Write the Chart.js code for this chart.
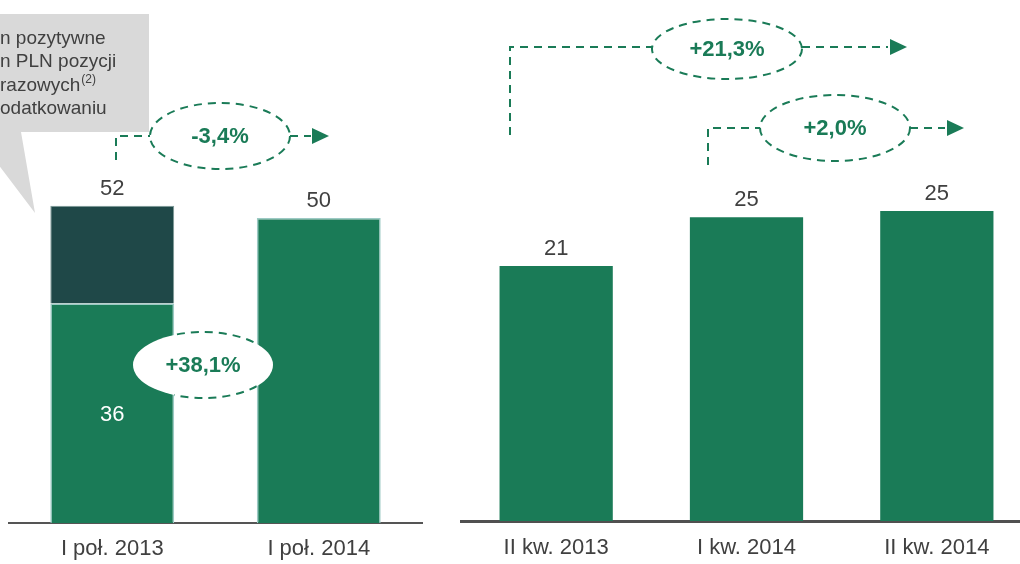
<!DOCTYPE html>
<html>
<head>
<meta charset="utf-8">
<script src="https://cdn.jsdelivr.net/npm/chart.js@4.4.1/dist/chart.umd.min.js"></script>
<style>
  html, body { margin: 0; padding: 0; background: #fff; overflow: hidden; width: 1020px; height: 564px; }
  #left { position: absolute; left: 0; top: 0; }
  #right { position: absolute; left: 451px; top: 0; }
</style>
</head>
<body>
<canvas id="left" width="432" height="564"></canvas>
<canvas id="right" width="600" height="564"></canvas>
<script>
// data
const halfYears = ['I poł. 2013', 'I poł. 2014'];
const halfCore = [36, 50];
const halfOneOff = [16, null];
const halfInner = ['36', null];
const quarters = ['II kw. 2013', 'I kw. 2014', 'II kw. 2014'];
const quarterValues = [20.9, 24.9, 25.4];

const GREEN = '#1a7b57';
const DARK = '#1f4848';
const TEXT = '#404040';
const FONT = '"Liberation Sans", Arial, sans-serif';

function dashed(ctx) {
  ctx.strokeStyle = GREEN;
  ctx.lineWidth = 2;
  ctx.setLineDash([8, 6]);
}

function polyline(ctx, pts) {
  ctx.save();
  dashed(ctx);
  ctx.beginPath();
  ctx.moveTo(pts[0][0], pts[0][1]);
  for (let i = 1; i < pts.length; i++) ctx.lineTo(pts[i][0], pts[i][1]);
  ctx.stroke();
  ctx.restore();
}

function pctText(ctx, label, cx, cy) {
  ctx.save();
  ctx.fillStyle = GREEN;
  ctx.font = 'bold 22px ' + FONT;
  ctx.textAlign = 'center';
  ctx.textBaseline = 'middle';
  ctx.fillText(label, cx, cy + 1);
  ctx.restore();
}

function ellipse(ctx, cx, cy, rx, ry, label) {
  ctx.save();
  dashed(ctx);
  ctx.beginPath();
  ctx.ellipse(cx, cy, rx, ry, 0, 0, Math.PI * 2);
  ctx.stroke();
  ctx.restore();
  pctText(ctx, label, cx, cy);
}

function arrow(ctx, x, y) {
  ctx.save();
  ctx.fillStyle = GREEN;
  ctx.beginPath();
  ctx.moveTo(x, y - 8);
  ctx.lineTo(x + 17, y);
  ctx.lineTo(x, y + 8);
  ctx.closePath();
  ctx.fill();
  ctx.restore();
}

// value labels on top of each stack
const totalsPlugin = {
  id: 'totals',
  afterDatasetsDraw(chart) {
    const ctx = chart.ctx;
    const n = chart.data.labels.length;
    ctx.save();
    ctx.font = '22px ' + FONT;
    ctx.fillStyle = TEXT;
    ctx.textAlign = 'center';
    ctx.textBaseline = 'alphabetic';
    for (let i = 0; i < n; i++) {
      let total = 0, top = null, x = null;
      chart.data.datasets.forEach((ds, d) => {
        const v = ds.data[i];
        if (v == null) return;
        total += v;
        const el = chart.getDatasetMeta(d).data[i];
        top = el.y; x = el.x;
      });
      ctx.fillText(Math.round(total), x, top - 11);
    }
    ctx.restore();
  }
};

// left chart
new Chart(document.getElementById('left'), {
  type: 'bar',
  data: {
    labels: halfYears,
    datasets: [
      { data: halfCore, backgroundColor: GREEN, borderColor: '#9ccac4', borderWidth: 1.5 },
      { data: halfOneOff, backgroundColor: DARK, borderColor: '#7d9a98', borderWidth: 1 }
    ]
  },
  options: {
    responsive: false,
    animation: false,
    layout: { padding: { top: 35, left: 9, right: 10, bottom: 0 } },
    plugins: { legend: { display: false }, tooltip: { enabled: false } },
    datasets: { bar: { barPercentage: 0.6, categoryPercentage: 1 } },
    scales: {
      x: {
        stacked: true,
        grid: { display: false, drawTicks: false },
        border: { display: true, color: '#555', width: 2 },
        ticks: { color: TEXT, font: { family: FONT, size: 22 }, padding: 13 },
        afterFit(scale) { scale.height = 41; }
      },
      y: { stacked: true, display: false, min: 0, max: 80 }
    }
  },
  plugins: [totalsPlugin, {
    id: 'leftNotes',
    beforeDraw(chart) {
      const ctx = chart.ctx;
      // grey callout bubble
      ctx.save();
      ctx.fillStyle = '#d9d9d9';
      ctx.beginPath();
      ctx.moveTo(-5, 14);
      ctx.lineTo(149, 14);
      ctx.lineTo(149, 132);
      ctx.lineTo(21, 132);
      ctx.lineTo(35, 213);
      ctx.lineTo(-5, 160);
      ctx.closePath();
      ctx.fill();
      ctx.fillStyle = TEXT;
      ctx.font = '19px ' + FONT;
      ctx.textBaseline = 'alphabetic';
      ctx.fillText('n pozytywne', 0, 44);
      ctx.fillText('n PLN pozycji', 0, 67);
      ctx.fillText('razowych', 0, 91);
      const w = ctx.measureText('razowych').width;
      ctx.font = '12px ' + FONT;
      ctx.fillText('(2)', w + 1, 83);
      ctx.font = '19px ' + FONT;
      ctx.fillText('odatkowaniu', 0, 114);
      ctx.restore();
    },
    afterDatasetsDraw(chart) {
      const ctx = chart.ctx;
      const meta0 = chart.getDatasetMeta(0);
      // inner label
      ctx.save();
      ctx.fillStyle = '#fff';
      ctx.font = '22px ' + FONT;
      ctx.textAlign = 'center';
      ctx.textBaseline = 'middle';
      halfInner.forEach((t, i) => {
        if (!t) return;
        const el = meta0.data[i];
        ctx.fillText(t, el.x, (el.y + el.base) / 2 + 2);
      });
      ctx.restore();
      // -3,4%
      polyline(ctx, [[116, 160], [116, 136], [150, 136]]);
      ellipse(ctx, 220, 136, 70, 33, '-3,4%');
      polyline(ctx, [[290, 136], [311, 136]]);
      arrow(ctx, 312, 136);
      // +38,1% (white bubble, dashes only visible between the bars)
      const b0 = meta0.data[0], b1 = meta0.data[1];
      ctx.save();
      ctx.fillStyle = '#fff';
      ctx.beginPath();
      ctx.ellipse(203, 365, 70, 33, 0, 0, Math.PI * 2);
      ctx.fill();
      ctx.beginPath();
      ctx.rect(b0.x + b0.width / 2, 0, (b1.x - b1.width / 2) - (b0.x + b0.width / 2), 564);
      ctx.clip();
      dashed(ctx);
      ctx.beginPath();
      ctx.ellipse(203, 365, 70, 33, 0, 0, Math.PI * 2);
      ctx.stroke();
      ctx.restore();
      pctText(ctx, '+38,1%', 203, 365);
    }
  }]
});

// right chart
new Chart(document.getElementById('right'), {
  type: 'bar',
  data: {
    labels: quarters,
    datasets: [
      { data: quarterValues, backgroundColor: GREEN, borderWidth: 0 }
    ]
  },
  options: {
    responsive: false,
    animation: false,
    layout: { padding: { top: 33, left: 10, right: 19, bottom: 0 } },
    plugins: { legend: { display: false }, tooltip: { enabled: false } },
    datasets: { bar: { barPercentage: 0.595, categoryPercentage: 1 } },
    scales: {
      x: {
        grid: { display: false, drawTicks: false },
        border: { display: true, color: '#505050', width: 3 },
        ticks: { color: TEXT, font: { family: FONT, size: 22 }, padding: 14 },
        afterFit(scale) { scale.height = 43; }
      },
      y: { display: false, min: 0, max: 40 }
    }
  },
  plugins: [totalsPlugin, {
    id: 'rightNotes',
    afterDatasetsDraw(chart) {
      const ctx = chart.ctx;
      const ox = -451;
      // +21,3%
      polyline(ctx, [[510 + ox, 135], [510 + ox, 47], [652 + ox, 47]]);
      ellipse(ctx, 727 + ox, 49, 75, 30, '+21,3%');
      polyline(ctx, [[802 + ox, 47], [888 + ox, 47]]);
      arrow(ctx, 890 + ox, 47);
      // +2,0%
      polyline(ctx, [[708 + ox, 165], [708 + ox, 128], [760 + ox, 128]]);
      ellipse(ctx, 835 + ox, 128, 75, 33, '+2,0%');
      polyline(ctx, [[910 + ox, 128], [945 + ox, 128]]);
      arrow(ctx, 947 + ox, 128);
    }
  }]
});
</script>
</body>
</html>
